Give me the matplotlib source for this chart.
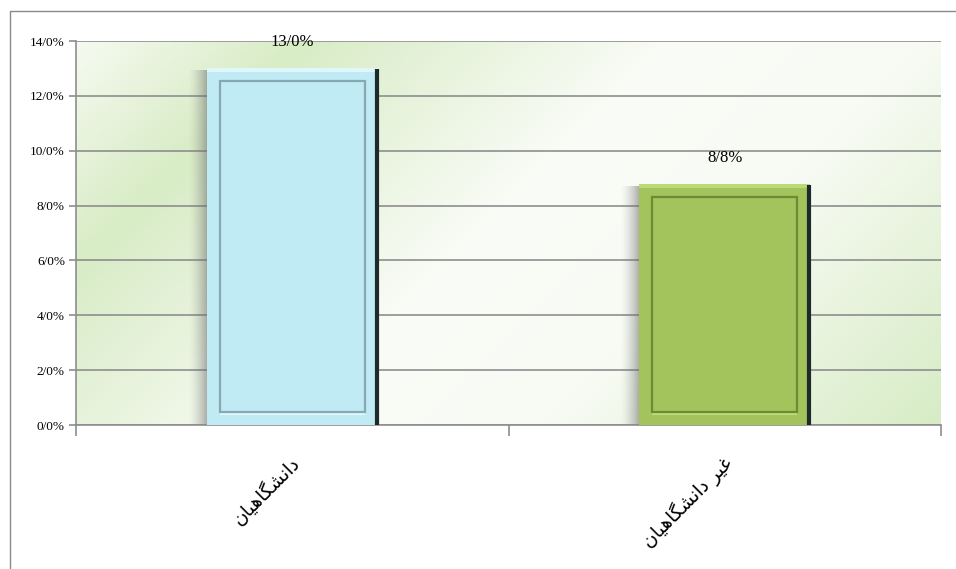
import matplotlib
matplotlib.use("Agg")
import matplotlib.pyplot as plt
from matplotlib.patches import Rectangle
from matplotlib.lines import Line2D
from matplotlib.transforms import ScaledTranslation
import numpy as np

# data
categories = ["دانشگاهیان", "غیر دانشگاهیان"]
# pre-shaped (presentation forms, visual order) versions of the labels
shaped_labels = [
    "\uFEE5\uFE8E\uFBFF\uFEEB\uFE8E\uFB95\uFEB8\uFEE7\uFE8D\uFEA9",
    "\uFEE5\uFE8E\uFBFF\uFEEB\uFE8E\uFB95\uFEB8\uFEE7\uFE8D\uFEA9 \uFEAE\uFBFF\uFECF",
]
values = [13.0, 8.8]
yticks = [0, 2, 4, 6, 8, 10, 12, 14]

face_colors = ["#c0eaf4", "#a3c35c"]
inner_colors = ["#86aab4", "#6c8c34"]
light_colors = ["#dff6fb", "#bcdb78"]

W, H = 956, 569
fig = plt.figure(figsize=(W / 100, H / 100), dpi=100)
ax = fig.add_axes([76 / W, 1 - 425 / H, 865 / W, 384 / H])

ax.set_xlim(-0.5, 1.5)
ax.set_ylim(0, 14)

# background gradient (diagonal, green - white - green)
ny, nx = 200, 400
gx, gy = np.meshgrid(np.linspace(0, 1, nx), np.linspace(0, 1, ny))
t = (gx * 865 + gy * 384) / (865 + 384)
stops = [0.0, 0.18, 0.48, 0.68, 1.0]
cols = np.array([[246, 250, 240], [216, 236, 198], [250, 252, 247],
                 [248, 251, 244], [215, 236, 197]]) / 255.0
img = np.zeros((ny, nx, 3))
for c in range(3):
    img[..., c] = np.interp(t, stops, cols[:, c])
ax.imshow(img, extent=[-0.5, 1.5, 0, 14], aspect="auto", origin="upper", zorder=0)

ax.set_yticks(yticks)
ax.set_yticklabels([f"{v}/0%" for v in yticks], fontfamily="Liberation Serif", fontsize=9.5)
ax.yaxis.grid(True, color="#8e8e8e", linewidth=1.2, zorder=1)
ax.set_axisbelow(True)

for s in ["top", "right"]:
    ax.spines[s].set_visible(False)
for s in ["left", "bottom"]:
    ax.spines[s].set_color("#8e8e8e")
    ax.spines[s].set_linewidth(1.2)
ax.tick_params(axis="y", length=5, color="#8e8e8e", width=1.2, pad=3)

x = np.arange(len(values))
ax.set_xticks(x)
ax.set_xticklabels(shaped_labels, rotation=45, ha="right", rotation_mode="anchor",
                   fontfamily="DejaVu Sans", fontsize=13.5)
ax.tick_params(axis="x", which="major", length=0, pad=20)
for lab in ax.get_xticklabels():
    lab.set_transform(lab.get_transform() + ScaledTranslation(-3 / 100, 0, fig.dpi_scale_trans))
ax.set_xticks([-0.5, 0.5, 1.5], minor=True)
ax.tick_params(axis="x", which="minor", length=8, color="#8e8e8e", width=1.2)

width = 0.395
px_x = 2.0 / 865
px_y = 14.0 / 384

for i, v in enumerate(values):
    x0 = x[i] - width / 2
    # soft shadow on the left
    for k in range(18):
        a = 0.5 * (1 - k / 18) ** 1.5
        ax.add_patch(Rectangle((x0 - (k + 1) * px_x, 0), px_x, v - 2 * px_y,
                               facecolor="#6a6a6a", alpha=a, edgecolor="none", zorder=2))
ax.bar(x, values, width, color=face_colors, edgecolor="none", zorder=3)

for i, v in enumerate(values):
    x0 = x[i] - width / 2
    x1 = x[i] + width / 2
    ins_x = 13 * px_x
    ins_y = 13 * px_y
    # top highlight band
    ax.add_patch(Rectangle((x0, v - 4 * px_y), width, 4 * px_y,
                           facecolor=light_colors[i], edgecolor="none", zorder=4))
    # bottom light band
    ax.add_patch(Rectangle((x0 + ins_x, ins_y - 3 * px_y), width - 2 * ins_x, 3 * px_y,
                           facecolor=light_colors[i], edgecolor="none", zorder=4))
    # inner bevel rectangle
    ax.add_patch(Rectangle((x0 + ins_x, ins_y), width - 2 * ins_x, v - 2 * ins_y,
                           facecolor="none", edgecolor=inner_colors[i], linewidth=1.6, zorder=5))
    # dark right edge
    ax.plot([x1 - px_x, x1 - px_x], [0, v - px_y], color="#1c2a2c", linewidth=3,
            solid_capstyle="butt", zorder=6)
    ax.annotate(f"{v:.1f}%".replace(".", "/"), (x[i], v), xytext=(0, 13),
                textcoords="offset points", ha="center", va="bottom",
                fontfamily="Liberation Serif", fontsize=12, zorder=7)

# outer chart border (left and top)
fig.add_artist(Line2D([10 / W, 10 / W, 1.0], [0, 1 - 11 / H, 1 - 11 / H],
                      transform=fig.transFigure, color="#8a8a8a", linewidth=1))

fig.savefig("out.png", dpi=100)
